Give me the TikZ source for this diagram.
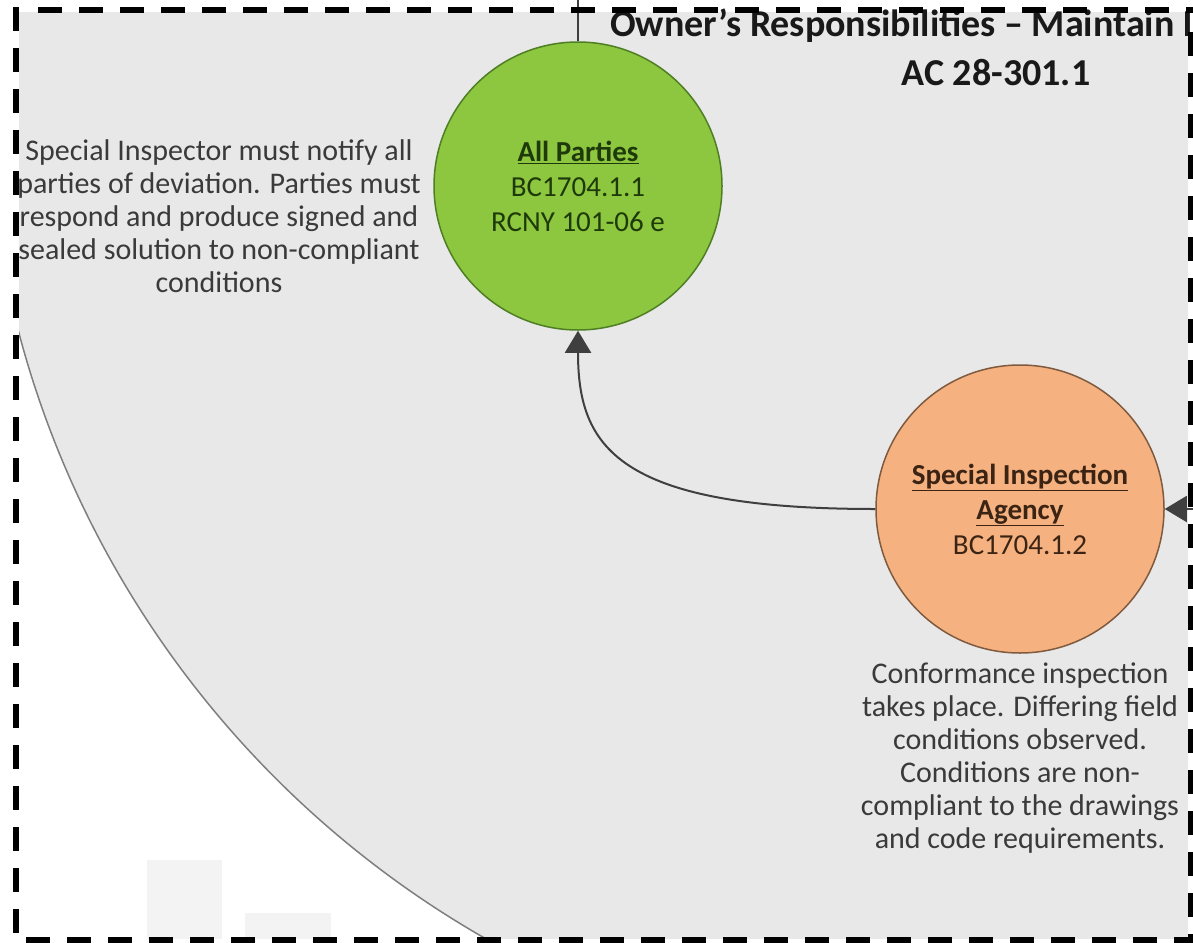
\documentclass[tikz,border=0pt]{standalone}
\usepackage{fontspec}
\setmainfont{Carlito}
\usetikzlibrary{arrows.meta}

\definecolor{ringfill}{HTML}{E8E8E8}
\definecolor{ringline}{HTML}{7F7F7F}
\definecolor{partyfill}{HTML}{8DC63F}
\definecolor{partyline}{HTML}{4E7F24}
\definecolor{partytext}{HTML}{1F3A0A}
\definecolor{agencyfill}{HTML}{F5B17F}
\definecolor{agencyline}{HTML}{7F5A3F}
\definecolor{agencytext}{HTML}{3B2414}
\definecolor{bodygray}{HTML}{3A3A3A}
\definecolor{linkgray}{HTML}{3F3F3F}
\definecolor{ghost}{HTML}{F3F3F3}

\begin{document}
\begin{tikzpicture}[x=1pt,y=-1pt,
  bodytext/.style={align=center, text=bodygray, inner sep=0pt,
    font={\fontsize{30}{33}\selectfont}},
  titletext/.style={text=black!90, inner sep=0pt,
    font={\fontsize{38}{47}\selectfont\bfseries}},
  stage/.style={circle, minimum size=288pt, inner sep=0pt, line width=1.5pt,
    align=center, font={\fontsize{29}{35}\selectfont}},
  conn/.style={draw=linkgray, line width=2pt,
    -{Triangle[length=22pt, width=26pt]}},
  plainlink/.style={draw=linkgray, line width=1.5pt},
  frame/.style={line width=6pt, dash pattern=on 24pt off 17pt}
]
\useasboundingbox (0,0) rectangle (1193,942);
\clip (0,0) rectangle (1193,942);
\fill[white] (0,0) rectangle (1193,942);

\begin{scope}
  \clip (19,13) rectangle (1188,938);
  % faint logo blocks in the lower left
  \fill[ghost] (147,860) rectangle (222,942);
  \fill[ghost] (245,913) rectangle (331,942);
  % large background ring
  \filldraw[fill=ringfill, draw=ringline, line width=1.5pt]
    (975,79) circle[radius=989pt];
\end{scope}

% title
\node[titletext, anchor=base west] (title) at (610,37)
  {Owner’s Responsibilities – Maintain L};
\node[titletext, anchor=base] (code) at (996,85) {AC 28-301.1};

% stages
\node[stage, fill=partyfill, draw=partyline, text=partytext] (ap) at (578,186)
  {\textbf{\underline{All Parties}}\\BC1704.1.1\\RCNY 101-06 e};
\node[stage, fill=agencyfill, draw=agencyline, text=agencytext] (sia) at (1020,509)
  {\textbf{\underline{Special Inspection}}\\\textbf{\underline{Agency}}\\BC1704.1.2};

% descriptions
\node[bodytext] (apnote) at (219,216)
  {Special Inspector must notify all\\parties of deviation. Parties must\\respond and produce signed and\\sealed solution to non-compliant\\conditions};
\node[bodytext] (sianote) at (1020,758)
  {Conformance inspection\\takes place. Differing field\\conditions observed.\\Conditions are non-\\compliant to the drawings\\and code requirements.};

% connectors
\coordinate (topin) at (578,0);
\coordinate (rightin) at (1205,509);
\draw[plainlink] (topin) -- (ap.north);
\draw[conn] (sia.west) .. controls +(-260,0) and +(0,115) .. (ap.south);
\draw[conn] (rightin) -- (sia.east);

% dashed frame
\draw[frame] (16,7) -- (16,942);
\draw[frame] (38,10) -- (1193,10);
\draw[frame] (1191,32) -- (1191,942);
\draw[frame] (26,940) -- (1193,940);
\end{tikzpicture}
\end{document}
